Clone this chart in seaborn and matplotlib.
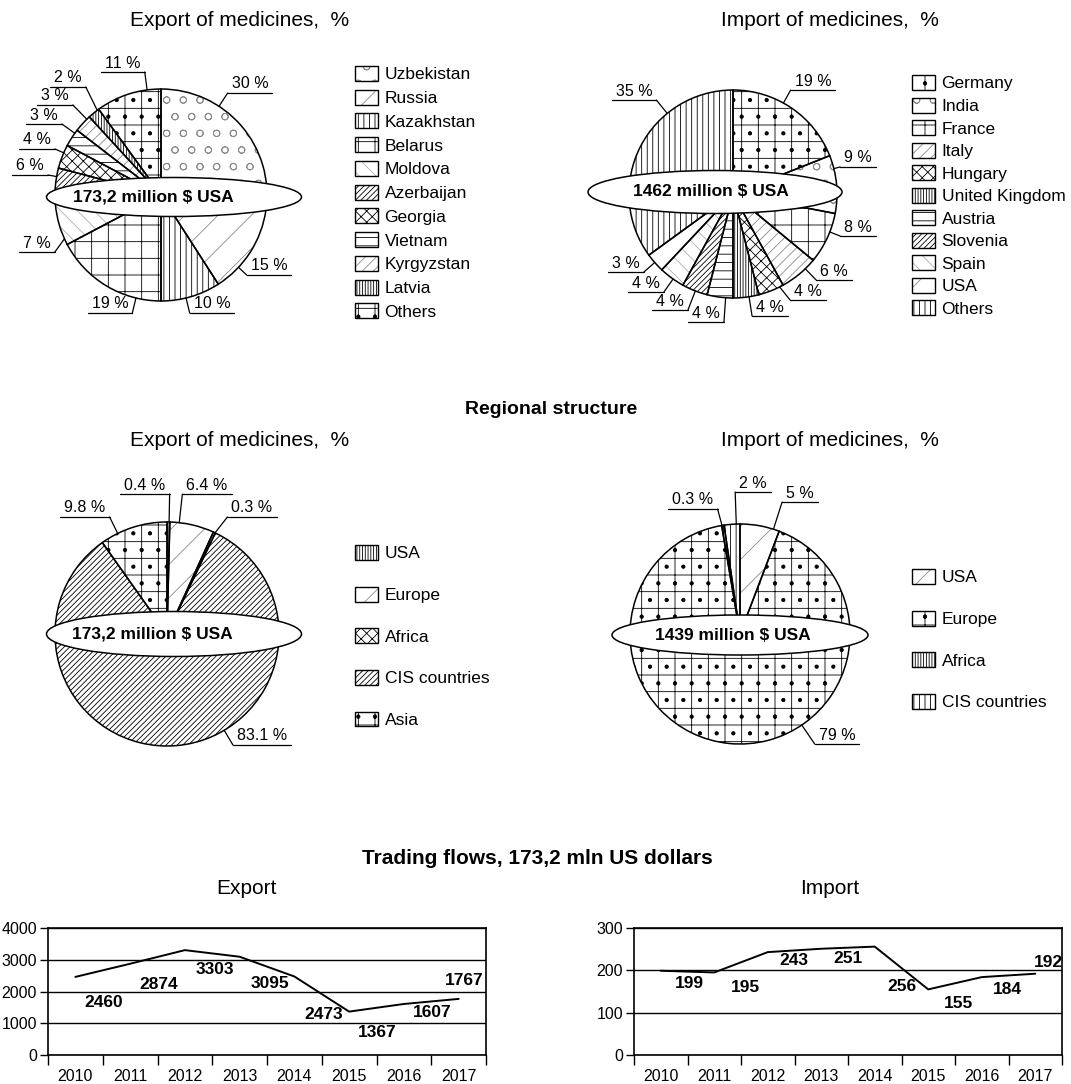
import matplotlib
matplotlib.use("Agg")
import matplotlib.pyplot as plt
from matplotlib.patches import Ellipse, Patch
import numpy as np
import pandas as pd
import seaborn as sns

# ---------------- data ----------------
export_countries = ["Uzbekistan", "Russia", "Kazakhstan", "Belarus", "Moldova", "Azerbaijan",
                    "Georgia", "Vietnam", "Kyrgyzstan", "Latvia", "Others"]
export_country_share = [30, 15, 10, 19, 7, 6, 4, 3, 3, 2, 11]

import_countries = ["Germany", "India", "France", "Italy", "Hungary", "United Kingdom",
                    "Austria", "Slovenia", "Spain", "USA", "Others"]
import_country_share = [19, 9, 8, 6, 4, 4, 4, 4, 4, 3, 35]

export_regions = ["USA", "Europe", "Africa", "CIS countries", "Asia"]
export_region_share = [0.4, 6.4, 0.3, 83.1, 9.8]

import_regions = ["USA", "Europe", "Africa", "CIS countries"]
import_region_share = [5, 79, 0.3, 2]

export_total = "173,2 million $ USA"
import_total = "1462 million $ USA"
import_region_total = "1439 million $ USA"

years = [2010, 2011, 2012, 2013, 2014, 2015, 2016, 2017]
export_flow = [2460, 2874, 3303, 3095, 2473, 1367, 1607, 1767]
import_flow = [199, 195, 243, 251, 256, 155, 184, 192]

# ---------------- style ----------------
W, H = 1071, 1084
sns.set_style("white")
plt.rcParams["font.family"] = ["Liberation Sans", "DejaVu Sans"]
plt.rcParams["text.color"] = "black"
plt.rcParams["xtick.color"] = "black"
plt.rcParams["ytick.color"] = "black"
plt.rcParams["hatch.linewidth"] = 0.6

GREY = "#8a8a8a"
LIGHT = "#b0b0b0"
STYLES = {
    "hex": ("o", GREY),
    "stripe": ("/", GREY),
    "lines": ("|||", "black"),
    "squares": ("+", "black"),
    "herring": ("\\\\", LIGHT),
    "diag": ("//////", "black"),
    "cross": ("xxx", "black"),
    "brick": ("--", "black"),
    "thin": ("///", GREY),
    "vert": ("||||||", "black"),
    "weave": ("+.", "black"),
}
export_country_kinds = ["hex", "stripe", "lines", "squares", "herring", "diag",
                        "cross", "brick", "thin", "vert", "weave"]
import_country_kinds = ["weave", "hex", "squares", "thin", "cross", "vert",
                        "brick", "diag", "herring", "stripe", "lines"]
export_region_kinds = ["vert", "stripe", "cross", "diag", "weave"]
import_region_kinds = ["stripe", "weave", "vert", "lines"]

fig = plt.figure(figsize=(W / 100, H / 100), dpi=100)
ov = fig.add_axes([0, 0, 1, 1])
ov.set_xlim(0, W)
ov.set_ylim(0, H)
ov.set_axis_off()
renderer = fig.canvas.get_renderer()


def pie_block(values, kinds, center, radius, spots, ell, total, total_x):
    cx, cy = center[0], H - center[1]
    hatches = [STYLES[k][0] for k in kinds]
    wedges, _ = ov.pie(values, startangle=90, counterclock=False, radius=radius,
                       center=(cx, cy), hatch=hatches, frame=True,
                       wedgeprops=dict(facecolor="white", linewidth=0))
    for w, k in zip(wedges, kinds):
        w.set_edgecolor(STYLES[k][1])
    ov.pie(values, startangle=90, counterclock=False, radius=radius,
           center=(cx, cy), frame=True,
           wedgeprops=dict(fill=False, edgecolor="black", linewidth=1.1))

    ex, ey, ew, eh = ell
    ov.add_patch(Ellipse((ex, H - ey), ew, eh, facecolor="white",
                         edgecolor="black", lw=1.1, zorder=5))
    ov.text(total_x, H - ey, total, ha="center", va="center",
            fontsize=12.5, fontweight="bold", zorder=6)

    # percentage labels with underline and leader line
    for w, v, (tx, uy) in zip(wedges, values, spots):
        uy = H - uy
        t = ov.text(tx, uy + 1.5, f"{v:g} %", ha="center", va="bottom", fontsize=11.5)
        half_w = t.get_window_extent(renderer=renderer).width / 2 + 4
        x0, x1 = tx - half_w, tx + half_w
        end_x = x0 if tx > cx else x1
        ov.plot([x0, x1], [uy, uy], color="black", lw=0.9)
        mid = (w.theta1 + w.theta2) / 2
        span = (w.theta2 - w.theta1) / 2 * 0.7
        a = np.degrees(np.arctan2(uy - cy, end_x - cx))
        d = np.clip((a - mid + 180) % 360 - 180, -span, span)
        ang = np.radians(mid + d)
        ov.plot([end_x, cx + radius * np.cos(ang)], [uy, cy + radius * np.sin(ang)],
                color="black", lw=0.9)


def pie_legend(names, kinds, x, y, spacing):
    handles = [(Patch(facecolor="white", edgecolor=STYLES[k][1], hatch=STYLES[k][0], lw=0),
                Patch(fill=False, edgecolor="black", lw=1)) for k in kinds]
    leg = fig.legend(handles, names, loc="upper left", bbox_to_anchor=(x / W, 1 - y / H),
                     frameon=False, fontsize=12.5, handlelength=1.35, handleheight=0.95,
                     handletextpad=0.35, labelspacing=spacing, borderpad=0, borderaxespad=0)
    return leg


# top row: countries
pie_block(export_country_share, export_country_kinds, (161, 195), 106,
          [(250, 93), (269, 275), (212, 313), (110, 313), (37, 252), (30, 175),
           (37, 149), (44, 124), (55, 105), (68, 87), (123, 72)],
          (174, 197, 255, 39), export_total, 153)
pie_legend(export_countries, export_country_kinds, 355, 66, 0.42)

pie_block(import_country_share, import_country_kinds, (733, 194), 104,
          [(813, 90), (858, 167), (858, 236), (834, 280), (808, 300), (770, 316),
           (706, 322), (670, 310), (646, 292), (626, 272), (634, 100)],
          (715, 192, 254, 43), import_total, 711)
pie_legend(import_countries, import_country_kinds, 912, 75, 0.35)

# middle row: regions
pie_block(export_region_share, export_region_kinds, (167, 634), 112,
          [(145, 494), (207, 494), (252, 517), (262, 745), (85, 517)],
          (174, 634, 255, 45), export_total, 152)
pie_legend(export_regions, export_region_kinds, 355, 545, 1.45)

pie_block(import_region_share, import_region_kinds, (740, 634), 110,
          [(800, 502), (837, 744), (693, 509), (753, 492)],
          (740, 635, 256, 40), import_region_total, 733)
pie_legend(import_regions, import_region_kinds, 912, 569, 1.45)

# titles
fig.text(240 / W, 1 - 20 / H, "Export of medicines,  %", ha="center", va="center", fontsize=15)
fig.text(830 / W, 1 - 20 / H, "Import of medicines,  %", ha="center", va="center", fontsize=15)
fig.text(551 / W, 1 - 410 / H, "Regional structure", ha="center", va="center",
         fontsize=14, fontweight="bold")
fig.text(240 / W, 1 - 441 / H, "Export of medicines,  %", ha="center", va="center", fontsize=15)
fig.text(830 / W, 1 - 441 / H, "Import of medicines,  %", ha="center", va="center", fontsize=15)
fig.text(537 / W, 1 - 858 / H, "Trading flows, 173,2 mln US dollars", ha="center",
         va="center", fontsize=15, fontweight="bold")

ov.set_xlim(0, W)
ov.set_ylim(0, H)


# ---------------- trading flow charts ----------------
def flow_chart(left, right, values, ymax, step, offsets, title, title_x):
    top, bottom = 928, 1055
    ax = fig.add_axes([left / W, 1 - bottom / H, (right - left) / W, (bottom - top) / H])
    df = pd.DataFrame({"year": years, "value": values})
    sns.lineplot(data=df, x="year", y="value", color="black", lw=1.4, ax=ax)
    ax.set_xlim(years[0] - 0.5, years[-1] + 0.5)
    ax.set_ylim(0, ymax)
    ax.set_xticks(np.arange(years[0] - 0.5, years[-1] + 1))
    ax.set_xticks(years, minor=True)
    ax.set_xticklabels([str(y) for y in years], minor=True)
    ax.tick_params(axis="x", which="major", length=7, width=1, bottom=True, labelbottom=False)
    ax.tick_params(axis="x", which="minor", length=0, labelsize=11.5, pad=10)
    ax.set_yticks(np.arange(0, ymax + 1, step))
    ax.tick_params(axis="y", length=6, width=1, left=True, labelsize=11.5, pad=2)
    ax.grid(axis="y", color="black", lw=1)
    ax.set_xlabel("")
    ax.set_ylabel("")
    for sp in ax.spines.values():
        sp.set_visible(True)
        sp.set_color("black")
        sp.set_linewidth(1.2)
    for x, v, (dx, dy) in zip(years, values, offsets):
        ax.annotate(str(v), (x, v), xytext=(dx, dy), textcoords="offset pixels",
                    ha="center", va="center", fontsize=12.5, fontweight="bold")
    fig.text(title_x / W, 1 - 888 / H, title, ha="center", va="center", fontsize=15)


flow_chart(48, 486, export_flow, 4000, 1000,
           [(28, -26), (29, -21), (30, -19), (30, -27), (29, -38), (28, -21), (28, -9), (6, 18)],
           "Export", 246)
flow_chart(634, 1062, import_flow, 300, 100,
           [(29, -13), (31, -15), (26, -8), (27, -10), (27, -40), (30, -14), (26, -12), (13, 11)],
           "Import", 830)

fig.savefig("out.png", dpi=100)
